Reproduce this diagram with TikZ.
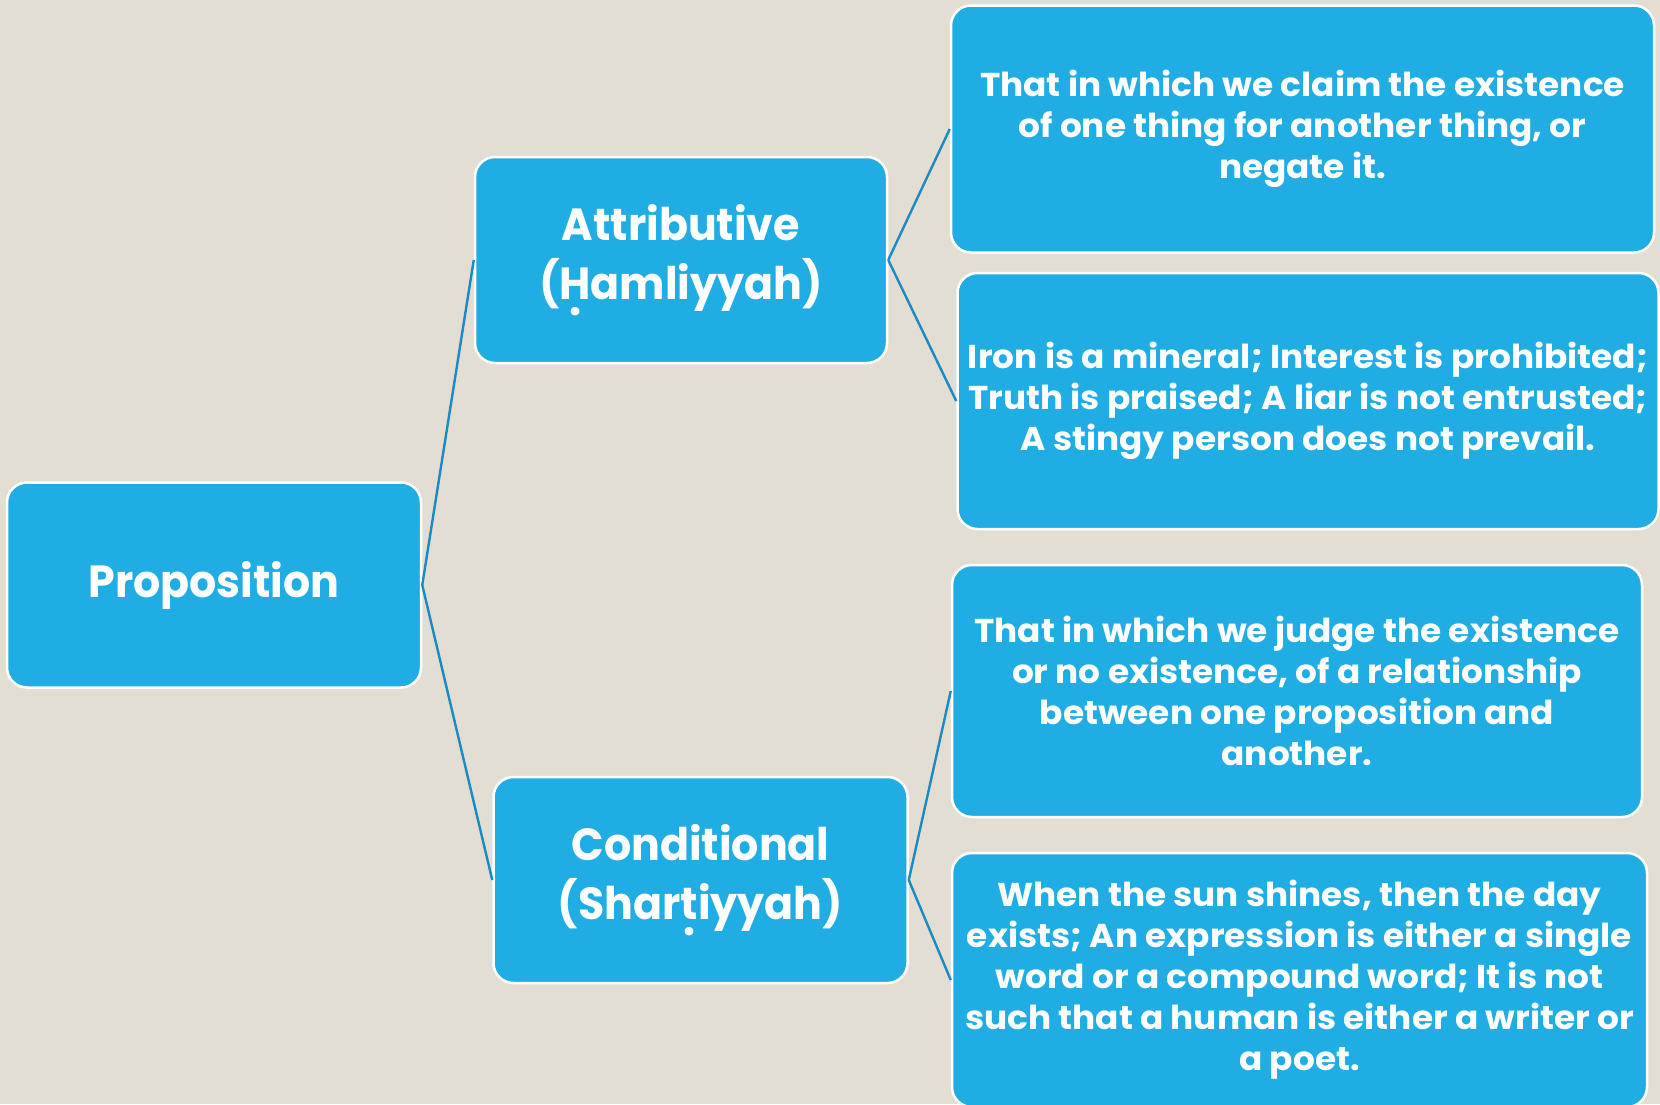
\documentclass[tikz,border=0pt]{standalone}
\usepackage{fontspec}
\setmainfont{Poppins}
\newfontfamily\headfont{Poppins Bold}[FakeStretch=0.95]
\newfontfamily\bodyfont{Poppins Bold}[FakeStretch=1.04]
\newcommand{\dotbelow}[1]{\ooalign{#1\cr\hidewidth\raisebox{-0.34em}{.}\hidewidth\cr}}
\definecolor{paper}{RGB}{227,222,211}
\definecolor{boxblue}{RGB}{31,173,228}
\definecolor{linkblue}{RGB}{26,138,196}
\tikzset{
  card/.style={draw=white, line width=2.5pt, fill=boxblue, rounded corners=20pt,
    text=white, align=center, inner sep=0pt},
  bigcard/.style={card, font=\headfont\fontsize{45}{59}\selectfont},
  textcard/.style={card, font=\bodyfont\fontsize{33}{41}\selectfont},
  link/.style={draw=linkblue, line width=2.4pt}
}
\begin{document}
\begin{tikzpicture}[x=1pt,y=-1pt]
  \fill[paper] (0,0) rectangle (1660,1104);
  \useasboundingbox (0,0) rectangle (1660,1104);

  % left column
  \node[bigcard, minimum width=414pt, minimum height=205pt] (prop) at (214,585) {Proposition};

  % middle column
  \node[bigcard, minimum width=412pt, minimum height=206pt] (attr) at (681,260)
    {Attributive\\(\dotbelow{H}amliyyah)};
  \node[bigcard, minimum width=414pt, minimum height=206pt] (cond) at (700.5,880)
    {Conditional\\(Shar\dotbelow{t}iyyah)};

  % right column
  \node[textcard, minimum width=703pt, minimum height=247pt] (def1) at (1302.5,129)
    {That in which we claim the existence\\of one thing for another thing, or\\negate it.};
  \node[textcard, minimum width=701pt, minimum height=256pt] (ex1) at (1308,401)
    {Iron is a mineral; Interest is prohibited;\\Truth is praised; A liar is not entrusted;\\A stingy person does not prevail.};
  \node[textcard, minimum width=690pt, minimum height=252pt] (def2) at (1297,691)
    {That in which we judge the existence\\or no existence, of a relationship\\between one proposition and\\another.};
  \node[textcard, minimum width=695pt, minimum height=254pt] (ex2) at (1299.5,980)
    {When the sun shines, then the day\\exists; An expression is either a single\\word or a compound word; It is not\\such that a human is either a writer or\\a poet.};

  % connectors
  \draw[link] (prop.east) -- (attr.west);
  \draw[link] (prop.east) -- (cond.west);
  \draw[link] (attr.east) -- (def1.west);
  \draw[link] (attr.east) -- (ex1.west);
  \draw[link] (cond.east) -- (def2.west);
  \draw[link] (cond.east) -- (ex2.west);
\end{tikzpicture}
\end{document}
